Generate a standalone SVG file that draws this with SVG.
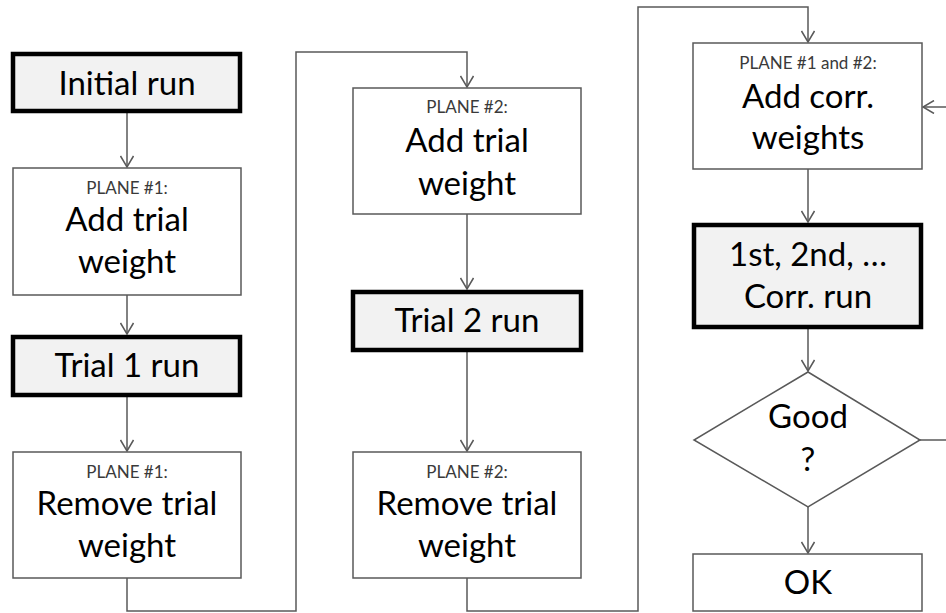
<svg xmlns="http://www.w3.org/2000/svg" width="946" height="613" viewBox="0 0 946 613">
<style>
.bg{fill:#ffffff}
.box{fill:#ffffff;stroke:#595959;stroke-width:1.5}
.run{fill:#f2f2f2;stroke:#000000;stroke-width:4.5}
.big{font-family:Lato,"Liberation Sans",sans-serif;font-size:33px;fill:#000000;text-anchor:middle}
.small{font-family:Lato,"Liberation Sans",sans-serif;font-size:17px;fill:#3a3a3a;text-anchor:middle}
.con{fill:none;stroke:#595959;stroke-width:1.5}
</style>
<defs>
<marker id="arr" markerUnits="userSpaceOnUse" markerWidth="14" markerHeight="14" viewBox="0 0 14 14" refX="12" refY="7" orient="auto">
<path d="M1,0.5 L12,7 L1,13.5" fill="none" stroke="#595959" stroke-width="1.5"/>
</marker>
</defs>
<rect class="bg" x="0" y="0" width="946" height="613"/>
<g id="connectors">
<line class="con" x1="127" y1="113" x2="127" y2="167" marker-end="url(#arr)"/>
<line class="con" x1="127" y1="295" x2="127" y2="334" marker-end="url(#arr)"/>
<line class="con" x1="127" y1="397" x2="127" y2="451" marker-end="url(#arr)"/>
<polyline class="con" points="127,578 127,611 296,611 296,52 467,52 467,87" marker-end="url(#arr)"/>
<line class="con" x1="467" y1="214" x2="467" y2="289" marker-end="url(#arr)"/>
<line class="con" x1="467" y1="352" x2="467" y2="451" marker-end="url(#arr)"/>
<polyline class="con" points="467,578 467,611 638,611 638,7 808,7 808,42" marker-end="url(#arr)"/>
<line class="con" x1="808" y1="169" x2="808" y2="222" marker-end="url(#arr)"/>
<line class="con" x1="808" y1="329" x2="808" y2="371" marker-end="url(#arr)"/>
<line class="con" x1="808" y1="507" x2="808" y2="553" marker-end="url(#arr)"/>
<line class="con" x1="920" y1="440" x2="946" y2="440"/>
<line class="con" x1="946" y1="107" x2="923" y2="107" marker-end="url(#arr)"/>
</g>
<g id="initial-run">
<rect class="run" x="13" y="54" width="227" height="57"/>
<text class="big" x="127" y="95">Initial run</text>
</g>
<g id="p1-add">
<rect class="box" x="13" y="168" width="228" height="127"/>
<text class="small" x="127" y="194">PLANE #1:</text>
<text class="big" x="127" y="231">Add trial</text>
<text class="big" x="127" y="273">weight</text>
</g>
<g id="trial1-run">
<rect class="run" x="13" y="337" width="227" height="58"/>
<text class="big" x="127" y="377">Trial 1 run</text>
</g>
<g id="p1-remove">
<rect class="box" x="13" y="452" width="228" height="126"/>
<text class="small" x="127" y="478">PLANE #1:</text>
<text class="big" x="127" y="515">Remove trial</text>
<text class="big" x="127" y="557">weight</text>
</g>
<g id="p2-add">
<rect class="box" x="353" y="88" width="228" height="126"/>
<text class="small" x="467" y="113">PLANE #2:</text>
<text class="big" x="467" y="152">Add trial</text>
<text class="big" x="467" y="195">weight</text>
</g>
<g id="trial2-run">
<rect class="run" x="353" y="292" width="228" height="58"/>
<text class="big" x="467" y="332">Trial 2 run</text>
</g>
<g id="p2-remove">
<rect class="box" x="353" y="452" width="228" height="126"/>
<text class="small" x="467" y="478">PLANE #2:</text>
<text class="big" x="467" y="515">Remove trial</text>
<text class="big" x="467" y="557">weight</text>
</g>
<g id="p12-add">
<rect class="box" x="693" y="43" width="229" height="126"/>
<text class="small" x="808" y="69">PLANE #1 and #2:</text>
<text class="big" x="808" y="108">Add corr.</text>
<text class="big" x="808" y="149">weights</text>
</g>
<g id="corr-run">
<rect class="run" x="694" y="225" width="227" height="102"/>
<text class="big" x="808" y="266">1st, 2nd, …</text>
<text class="big" x="808" y="308">Corr. run</text>
</g>
<g id="good">
<polygon class="box" points="808,372 920,440 808,507 694,440"/>
<text class="big" x="808" y="428">Good</text>
<text class="big" x="808" y="471">?</text>
</g>
<g id="ok">
<rect class="box" x="693" y="554" width="229" height="57"/>
<text class="big" x="808" y="594">OK</text>
</g>
</svg>
